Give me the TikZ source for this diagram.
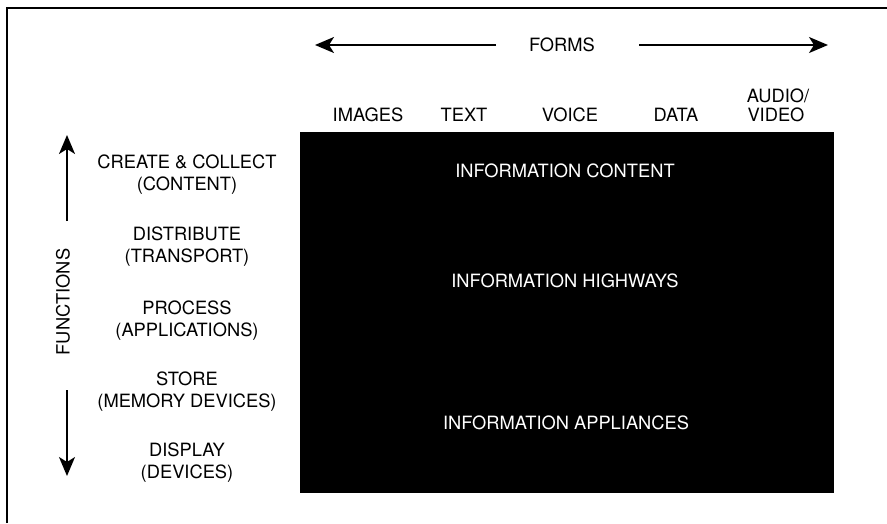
\documentclass[tikz,border=0pt]{standalone}
\usepackage{fontspec}
\setmainfont{TeX Gyre Heros}
\usetikzlibrary{arrows.meta}
\begin{document}
\begin{tikzpicture}[x=1pt,y=-1pt,
  lbl/.style={font=\fontsize{18.3}{21.5}\selectfont, inner sep=0pt, align=center},
  inlbl/.style={lbl, text=white},
  bigarrow/.style={line width=1.8pt, -{Stealth[length=19pt,width=16pt,inset=5pt]}},
  frameline/.style={line width=1.3pt}]
\useasboundingbox (0,0) rectangle (887,523);
% frame
\coordinate (ftl) at (7,8);
\coordinate (ftr) at (887,8);
\coordinate (fbl) at (7,523);
\draw[frameline] (fbl) -- (ftl) -- (ftr);
% black block
\node[fill=black, inner sep=0pt, minimum width=534pt, minimum height=361pt, anchor=north west] (blk) at (300,132) {};
% forms header
\node[lbl, anchor=base] (forms) at (562,51) {FORMS};
\coordinate (fl) at (315,45);
\coordinate (fr) at (828,45);
\coordinate (flt) at (496,45);
\coordinate (frt) at (639,45);
\draw[bigarrow] (flt) -- (fl);
\draw[bigarrow] (frt) -- (fr);
% columns
\node[lbl, anchor=base] (images) at (368,121) {IMAGES};
\node[lbl, anchor=base] (text) at (464,121) {TEXT};
\node[lbl, anchor=base] (voice) at (570,121) {VOICE};
\node[lbl, anchor=base] (data) at (676,121) {DATA};
\node[lbl, anchor=base] (audio) at (778,102) {AUDIO/};
\node[lbl, anchor=base] (video) at (776,121) {VIDEO};
% functions
\node[lbl, anchor=north] (create) at (187,155) {CREATE \& COLLECT\\(CONTENT)};
\node[lbl, anchor=north] (distr) at (187,227) {DISTRIBUTE\\(TRANSPORT)};
\node[lbl, anchor=north] (proc) at (187,301) {PROCESS\\(APPLICATIONS)};
\node[lbl, anchor=north] (store) at (187,372) {STORE\\(MEMORY DEVICES)};
\node[lbl, anchor=north] (disp) at (187,443) {DISPLAY\\(DEVICES)};
\node[lbl, rotate=90] (func) at (63,302) {FUNCTIONS};
\coordinate (ut) at (67,135);
\coordinate (ub) at (67,221);
\coordinate (dt) at (67,390);
\coordinate (db) at (67,476);
\draw[bigarrow] (ub) -- (ut);
\draw[bigarrow] (dt) -- (db);
% inside labels
\node[inlbl] (content) at (565,171) {INFORMATION CONTENT};
\node[inlbl] (high) at (565,281) {INFORMATION HIGHWAYS};
\node[inlbl] (appl) at (566,423) {INFORMATION APPLIANCES};
\end{tikzpicture}
\end{document}
